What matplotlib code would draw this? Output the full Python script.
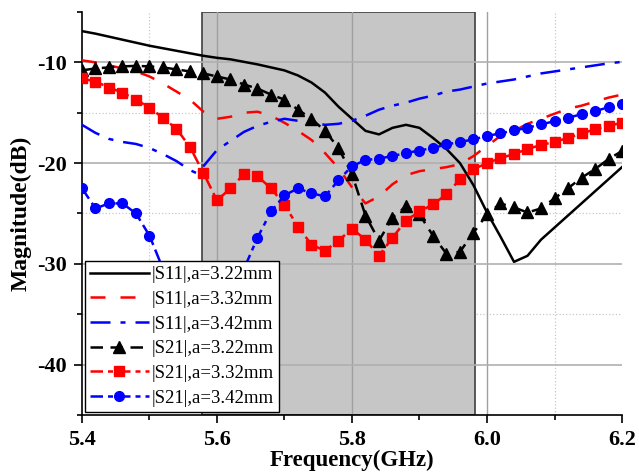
import numpy as np
import matplotlib
matplotlib.use("Agg")
import matplotlib.pyplot as plt
from matplotlib.ticker import MultipleLocator

# frequency grid (GHz), one point every 0.02 GHz
freq = [5.40, 5.42, 5.44, 5.46, 5.48, 5.50, 5.52, 5.54, 5.56, 5.58,
        5.60, 5.62, 5.64, 5.66, 5.68, 5.70, 5.72, 5.74, 5.76, 5.78,
        5.80, 5.82, 5.84, 5.86, 5.88, 5.90, 5.92, 5.94, 5.96, 5.98,
        6.00, 6.02, 6.04, 6.06, 6.08, 6.10, 6.12, 6.14, 6.16, 6.18, 6.20]

s11_322 = [-6.9, -7.15, -7.45, -7.75, -8.05, -8.35, -8.6, -8.85, -9.1, -9.35,
           -9.55, -9.7, -9.95, -10.2, -10.5, -10.8, -11.3, -12.0, -13.0, -14.4,
           -15.6, -16.8, -17.15, -16.5, -16.2, -16.5, -17.5, -18.6, -20.0, -22.2,
           -24.9, -27.3, -29.8, -29.2, -27.6, -26.4, -25.2, -24.0, -22.8, -21.6, -20.4]

s11_332 = [-9.8, -10.0, -10.3, -10.6, -10.9, -11.4, -12.1, -12.9, -13.7, -14.9,
           -15.6, -15.4, -15.0, -14.9, -15.3, -16.0, -16.8, -17.7, -19.0, -20.5,
           -22.4, -24.0, -23.3, -22.1, -21.2, -20.8, -20.6, -20.4, -20.1, -19.3,
           -18.3, -17.3, -16.8, -16.1, -15.6, -15.1, -14.6, -14.3, -13.9, -13.5, -13.2]

# S11 a=3.42 has its dip between grid points, so it gets its own x values
freq_s11_342 = [5.40, 5.42, 5.44, 5.46, 5.48, 5.50, 5.52, 5.54, 5.56, 5.57, 5.58,
                5.60, 5.62, 5.64, 5.66, 5.68, 5.70, 5.72, 5.74, 5.76, 5.78,
                5.80, 5.82, 5.84, 5.86, 5.88, 5.90, 5.92, 5.94, 5.96, 5.98,
                6.00, 6.02, 6.04, 6.06, 6.08, 6.10, 6.12, 6.14, 6.16, 6.18, 6.20]
s11_342 = [-16.2, -17.0, -17.6, -17.9, -18.1, -18.5, -19.1, -19.8, -20.7, -21.0, -20.3,
           -18.7, -17.8, -16.9, -16.3, -15.9, -15.6, -15.8, -16.0, -16.2, -16.1,
           -15.8, -15.3, -14.7, -14.3, -14.0, -13.6, -13.3, -12.9, -12.7, -12.4,
           -12.1, -11.9, -11.7, -11.4, -11.1, -10.9, -10.7, -10.5, -10.3, -10.1, -9.95]

s21_322 = [-10.8, -10.6, -10.5, -10.4, -10.35, -10.4, -10.5, -10.7, -10.9, -11.1,
           -11.4, -11.7, -12.2, -12.6, -13.2, -13.7, -14.7, -15.6, -16.8, -18.5,
           -21.1, -25.2, -27.7, -25.4, -24.3, -25.1, -27.2, -29.0, -28.8, -26.9,
           -25.1, -24.0, -24.4, -24.9, -24.5, -23.5, -22.5, -21.45, -20.6, -19.6, -18.8]

s21_332 = [-11.6, -11.9, -12.5, -13.0, -13.7, -14.5, -15.5, -16.6, -18.4, -21.0,
           -23.7, -22.5, -21.1, -21.3, -22.5, -24.15, -26.3, -28.1, -28.7, -27.7,
           -26.5, -27.6, -29.2, -27.4, -25.7, -24.8, -24.1, -23.1, -21.6, -20.6,
           -20.0, -19.5, -19.1, -18.6, -18.2, -17.9, -17.5, -17.05, -16.65, -16.3, -16.0]

s21_342 = [-22.5, -24.5, -24.0, -24.0, -25.0, -27.2, -30.5, -33.0, -35.0, -36.0,
           -35.5, -33.5, -30.5, -27.4, -24.8, -23.2, -22.5, -23.0, -23.3, -21.7,
           -20.3, -19.7, -19.55, -19.3, -19.0, -18.75, -18.5, -18.15, -17.9, -17.65,
           -17.3, -17.05, -16.75, -16.5, -16.15, -15.85, -15.5, -15.15, -14.85, -14.45, -14.1]

band = (5.578, 5.982)

labels = ["|S11|,a=3.22mm", "|S11|,a=3.32mm", "|S11|,a=3.42mm",
          "|S21|,a=3.22mm", "|S21|,a=3.32mm", "|S21|,a=3.42mm"]

plt.rcParams["font.family"] = ["Liberation Serif", "DejaVu Serif"]
plt.rcParams["axes.unicode_minus"] = False

fig = plt.figure(figsize=(6.39, 4.72), dpi=100)
ax = fig.add_axes([0.1283, 0.1208, 0.8451, 0.8538])

ax.set_xlim(5.4, 6.2)
ax.set_ylim(-45, -5)

# minor dotted grid sits under the shaded band
for x in [5.5, 5.7, 5.9, 6.1]:
    ax.axvline(x, color="#c8c8c8", lw=0.9, ls=":", zorder=0.3)
for y in [-15, -25, -35]:
    ax.axhline(y, color="#c8c8c8", lw=0.9, ls=":", zorder=0.3)

ax.axvspan(band[0], band[1], facecolor="#c6c6c6", edgecolor="#404040",
           lw=1.2, zorder=0.5)

# major grid on top of the band
for x in [5.6, 5.8, 6.0]:
    ax.axvline(x, color="#a0a0a0", lw=1.0, zorder=0.8)
for y in [-10, -20, -30, -40]:
    ax.axhline(y, color="#b0b0b0", lw=1.2, zorder=0.8)

ax.plot(freq, s11_322, color="black", lw=1.8, ls="-", label=labels[0], zorder=3)
ax.plot(freq, s11_332, color="red", lw=1.8, ls=(0, (6, 6)), label=labels[1], zorder=3)
ax.plot(freq_s11_342, s11_342, color="blue", lw=1.8, ls=(0, (8, 4, 2, 4)),
        label=labels[2], zorder=3)
ax.plot(freq, s21_322, color="black", lw=1.8, ls=(0, (5, 3)), marker="^",
        ms=8.5, label=labels[3], zorder=4)
ax.plot(freq, s21_332, color="red", lw=1.8, ls=(0, (5, 2, 2, 2)), marker="s",
        ms=6.5, label=labels[4], zorder=4)
ax.plot(freq, s21_342, color="blue", lw=1.8, ls=(0, (5, 2, 2, 2)), marker="o",
        ms=7, label=labels[5], zorder=4)

ax.xaxis.set_minor_locator(MultipleLocator(0.1))
ax.yaxis.set_major_locator(MultipleLocator(10))
ax.yaxis.set_minor_locator(MultipleLocator(5))
ax.set_xticks([5.4, 5.6, 5.8, 6.0, 6.2])
ax.set_xticklabels(["5.4", "5.6", "5.8", "6.0", "6.2"])
ax.tick_params(which="major", direction="out", length=6, width=1.2,
               labelsize=16, pad=5)
ax.tick_params(which="minor", direction="out", length=3.5, width=1.2)
for lab in ax.get_xticklabels() + ax.get_yticklabels():
    lab.set_fontweight("bold")

for side in ["top", "right"]:
    ax.spines[side].set_visible(False)
for side in ["left", "bottom"]:
    ax.spines[side].set_linewidth(1.2)

ax.set_xlabel("Frequency(GHz)", fontsize=16.5, fontweight="bold", labelpad=0)
ax.set_ylabel("Magnitude(dB)", fontsize=17, fontweight="bold", labelpad=4)

leg = ax.legend(loc="lower left", bbox_to_anchor=(0.0, 0.0), fontsize=13.5,
                frameon=True, fancybox=False, framealpha=1, edgecolor="black",
                handlelength=3.1, handletextpad=0.15, borderpad=0.3,
                labelspacing=0.4, borderaxespad=0.15)
leg.get_frame().set_linewidth(1.0)
leg.set_zorder(10)

fig.savefig("out.png", dpi=100)
